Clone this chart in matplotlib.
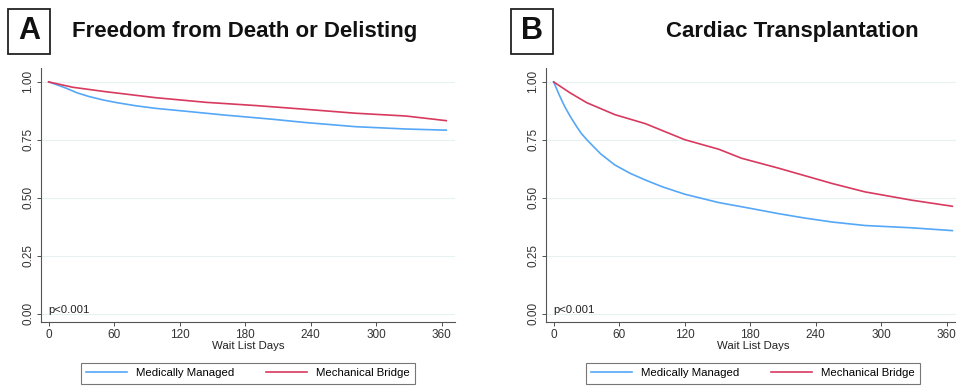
import matplotlib
matplotlib.use("Agg")
import matplotlib.pyplot as plt
from matplotlib.patches import Rectangle

plt.rcParams['font.family'] = ['Liberation Sans', 'DejaVu Sans']

# Panel A: Freedom from Death or Delisting
a_med_days = [0, 8, 16, 26, 37, 50, 62, 80, 98, 129, 159, 205, 235, 281, 327, 364]
a_med_surv = [1.0, 0.987, 0.973, 0.953, 0.937, 0.922, 0.911, 0.897, 0.886, 0.872, 0.858, 0.839, 0.825, 0.807, 0.797, 0.792]
a_mech_days = [0, 22, 52, 98, 144, 190, 235, 281, 327, 364]
a_mech_surv = [1.0, 0.977, 0.958, 0.932, 0.912, 0.898, 0.882, 0.865, 0.853, 0.833]

# Panel B: Cardiac Transplantation
b_med_days = [0, 5, 10, 15, 20, 25, 30.5, 43, 56, 70, 84, 100, 120, 151, 180, 206, 230, 255, 285, 328, 365]
b_med_surv = [1.0, 0.945, 0.895, 0.853, 0.815, 0.780, 0.75, 0.69, 0.642, 0.606, 0.577, 0.547, 0.516, 0.480, 0.455, 0.432, 0.413, 0.396, 0.381, 0.371, 0.359]
b_mech_days = [0, 15, 30.5, 56, 84, 120, 151, 172, 206, 255, 285, 328, 365]
b_mech_surv = [1.0, 0.953, 0.91, 0.859, 0.82, 0.751, 0.71, 0.671, 0.628, 0.562, 0.526, 0.49, 0.464]

x_ticks = [0, 60, 120, 180, 240, 300, 360]
y_ticks = [0.0, 0.25, 0.5, 0.75, 1.0]
y_ticklabels = ["0.00", "0.25", "0.50", "0.75", "1.00"]
series_labels = ["Medically Managed", "Mechanical Bridge"]
panel_letters = ["A", "B"]
panel_titles = ["Freedom from Death or Delisting", "Cardiac Transplantation"]

BLUE = '#55a7f7'
RED = '#d8395e'
W, H = 956, 389

fig = plt.figure(figsize=(W / 100, H / 100), dpi=100)

panels = [
    (41, a_med_days, a_med_surv, a_mech_days, a_mech_surv, 8, 245),
    (546, b_med_days, b_med_surv, b_mech_days, b_mech_surv, 511, 792),
]

ax_w = 414
ax_top = 68
ax_bot = 322

for i, (left, md, ms, kd, ks, boxx, titlex) in enumerate(panels):
    ax = fig.add_axes([left / W, (H - ax_bot) / H, ax_w / W, (ax_bot - ax_top) / H])
    ax.plot(md, ms, color=BLUE, lw=1.2, label=series_labels[0])
    ax.plot(kd, ks, color=RED, lw=1.2, label=series_labels[1])
    ax.set_xlim(-7, 372)
    ax.set_ylim(-0.035, 1.06)
    ax.set_xticks(x_ticks)
    ax.set_yticks(y_ticks)
    ax.set_yticklabels(y_ticklabels, rotation=90, va='center')
    for y in y_ticks:
        ax.axhline(y, color='#e8f1f1', lw=0.8, zorder=0)
    for s in ['top', 'right']:
        ax.spines[s].set_visible(False)
    for s in ['left', 'bottom']:
        ax.spines[s].set_color('#555555')
        ax.spines[s].set_linewidth(0.8)
    ax.tick_params(axis='both', labelsize=8.5, colors='#333333', length=3, width=0.6, pad=2)
    ax.set_xlabel("Wait List Days", fontsize=8.2, color='#222222', labelpad=0)
    ax.text(0, 0.015, "p<0.001", fontsize=8.2, va='center', ha='left', color='#222222')
    leg = ax.legend(loc='upper center', bbox_to_anchor=(0.5, -0.14), ncol=2,
                    fontsize=8.2, frameon=True, fancybox=False, edgecolor='#555555',
                    handlelength=3.6, columnspacing=2.8, handletextpad=0.8,
                    borderpad=0.45)
    leg.get_frame().set_linewidth(0.8)

    # panel letter box
    fig.patches.append(Rectangle((boxx / W, (H - 54) / H), 42 / W, 45 / H,
                                 transform=fig.transFigure, fill=False,
                                 edgecolor='#222222', lw=1.3))
    fig.text((boxx + 21) / W, (H - 31) / H, panel_letters[i], fontsize=22,
             fontweight='bold', ha='center', va='center', color='#111111')
    fig.text(titlex / W, (H - 32) / H, panel_titles[i], fontsize=16,
             fontweight='bold', ha='center', va='center', color='#111111')

fig.savefig("out.png", dpi=100)
